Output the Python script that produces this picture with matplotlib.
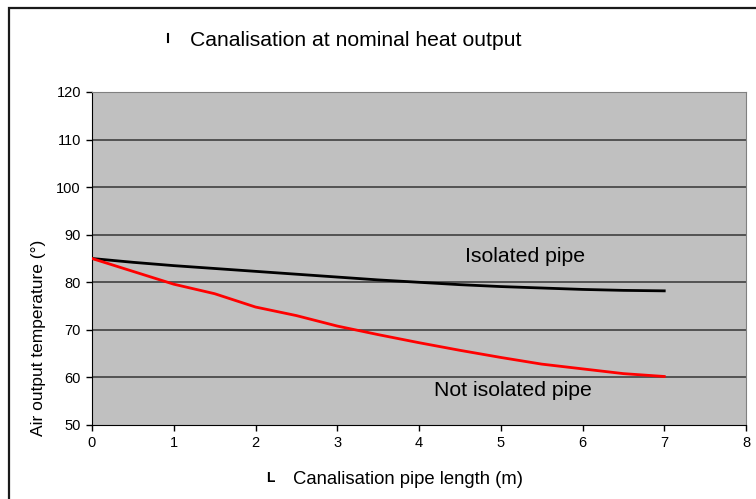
import matplotlib
matplotlib.use("Agg")
import matplotlib.pyplot as plt
from matplotlib.patches import Rectangle
from matplotlib.lines import Line2D

plt.rcParams["font.family"] = ["Liberation Sans", "DejaVu Sans"]

# pipe length (m)
length_m = [0, 0.5, 1, 1.5, 2, 2.5, 3, 3.5, 4, 4.5, 5, 5.5, 6, 6.5, 7]
# air output temperature, isolated pipe
isolated = [85, 84.2, 83.5, 82.9, 82.3, 81.7, 81.1, 80.5, 80.0, 79.5, 79.1,
            78.8, 78.5, 78.3, 78.2]
# air output temperature, not isolated pipe
not_isolated = [85, 82.3, 79.6, 77.6, 74.8, 73.0, 70.8, 69.0, 67.3, 65.7,
                64.2, 62.8, 61.8, 60.8, 60.2]

x_ticks = list(range(0, 9))
y_ticks = list(range(50, 130, 10))

W, H = 756, 499
fig = plt.figure(figsize=(W / 100, H / 100), dpi=100)
fig.patch.set_facecolor("white")

# outer chart frame (cropped on the right and bottom)
fig.patches.append(Rectangle((9 / W, -0.1), 1.2, 1 - 8 / H + 0.1,
                             transform=fig.transFigure, fill=False,
                             edgecolor="#1a1a1a", linewidth=1.6))

ax = fig.add_axes([92 / W, 1 - 425 / H, (746 - 92) / W, (425 - 92) / H])
ax.set_facecolor("#c0c0c0")

for y in y_ticks[1:]:
    ax.axhline(y, color="#404040", linewidth=1.2, zorder=1)

ax.plot(length_m, isolated, color="black", linewidth=2, zorder=3)
ax.plot(length_m, not_isolated, color="red", linewidth=2, zorder=3)

ax.set_xlim(0, 8)
ax.set_ylim(50, 120)
ax.set_xticks(x_ticks)
ax.set_yticks(y_ticks)
ax.tick_params(direction="out", length=4, width=1, labelsize=10.5,
               colors="black", pad=4)

ax.spines["left"].set_color("black")
ax.spines["bottom"].set_color("black")
ax.spines["top"].set_color("#808080")
ax.spines["right"].set_color("#808080")

ax.text(5.3, 85.4, "Isolated pipe", fontsize=15.3, ha="center", va="center")
ax.text(5.15, 57.3, "Not isolated pipe", fontsize=15.3, ha="center", va="center")

fig.text(39 / W, 1 - 338 / H, "Air output temperature (°)", fontsize=12.5,
         rotation=90, ha="center", va="center")

fig.text(356 / W, 1 - 40 / H, "Canalisation at nominal heat output",
         fontsize=15.2, ha="center", va="center")
fig.lines.append(Line2D([168 / W, 168 / W], [1 - 34 / H, 1 - 42 / H],
                        transform=fig.transFigure, color="black", linewidth=1.5))

fig.text(408 / W, 1 - 480 / H, "Canalisation pipe length (m)",
         fontsize=13.3, ha="center", va="center")
fig.text(270 / W, 1 - 478 / H, "L", fontsize=10, fontweight="bold",
         ha="center", va="center")

fig.savefig("out.png", dpi=100)
